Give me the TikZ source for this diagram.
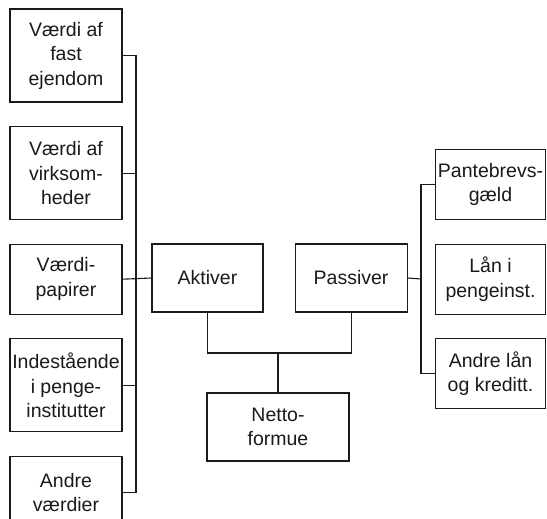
\documentclass[tikz,border=0pt]{standalone}
\usepackage{fontspec}
\setmainfont{Liberation Sans}
\usetikzlibrary{positioning}
\definecolor{ink}{HTML}{1A1A1A}
\tikzset{
  every node/.style={font=\fontsize{19.5}{24.5}\selectfont, text=ink},
  box/.style={draw=ink, line width=1.1pt, fill=white, align=center, inner xsep=2pt, inner ysep=2pt, minimum width=112pt},
  tallbox/.style={box, minimum height=93pt},
  flatbox/.style={box, minimum height=70pt},
  link/.style={draw=ink, line width=1.1pt},
}
\begin{document}
\begin{tikzpicture}[x=1pt, y=-1pt, node distance=23.5pt and 31pt]
\useasboundingbox (0,0) rectangle (547,519);
% aktiver side
\node[tallbox] (v1) at (66,55.5) {Værdi af\\fast\\ejendom};
\node[tallbox, below=of v1] (v2) {Værdi af\\virksom-\\heder};
\node[flatbox, below=of v2] (v3) {Værdi-\\papirer};
\node[tallbox, below=of v3] (v4) {Indestående\\i penge-\\institutter};
\node[box, minimum height=72pt, below=of v4] (v5) {Andre\\værdier};
% midten
\node[box, minimum width=111pt, minimum height=68pt] (aktiv) at (207.5,278) {Aktiver};
\node[box, minimum height=68pt, right=of aktiv] (passiv) {Passiver};
\node[box, minimum width=142pt, minimum height=68pt] (netto) at (278,427) {Netto-\\formue};
% passiver side
\node[flatbox, minimum width=110pt] (pant) at (490.5,184.5) {Pantebrevs-\\gæld};
\node[flatbox, minimum width=110pt, below=of pant] (laan) {Lån i\\pengeinst.};
\node[flatbox, minimum width=110pt, below=of laan] (andre) {Andre lån\\og kreditt.};
\coordinate (lbus) at (136,279);
\coordinate (rbus) at (421,279);
\coordinate (join) at (278,353);
\draw[link] (v1.east) -| (lbus) |- (v5.east);
\draw[link] (v2.east) -- (v2.east -| lbus);
\draw[link] (v3.east) -- (aktiv.west);
\draw[link] (v4.east) -- (v4.east -| lbus);
\draw[link] (aktiv.south) |- (join) -| (passiv.south);
\draw[link] (join) -- (netto.north);
\draw[link] (passiv.east) -- (rbus);
\draw[link] (pant.west) -| (rbus) |- (andre.west);
\end{tikzpicture}
\end{document}
